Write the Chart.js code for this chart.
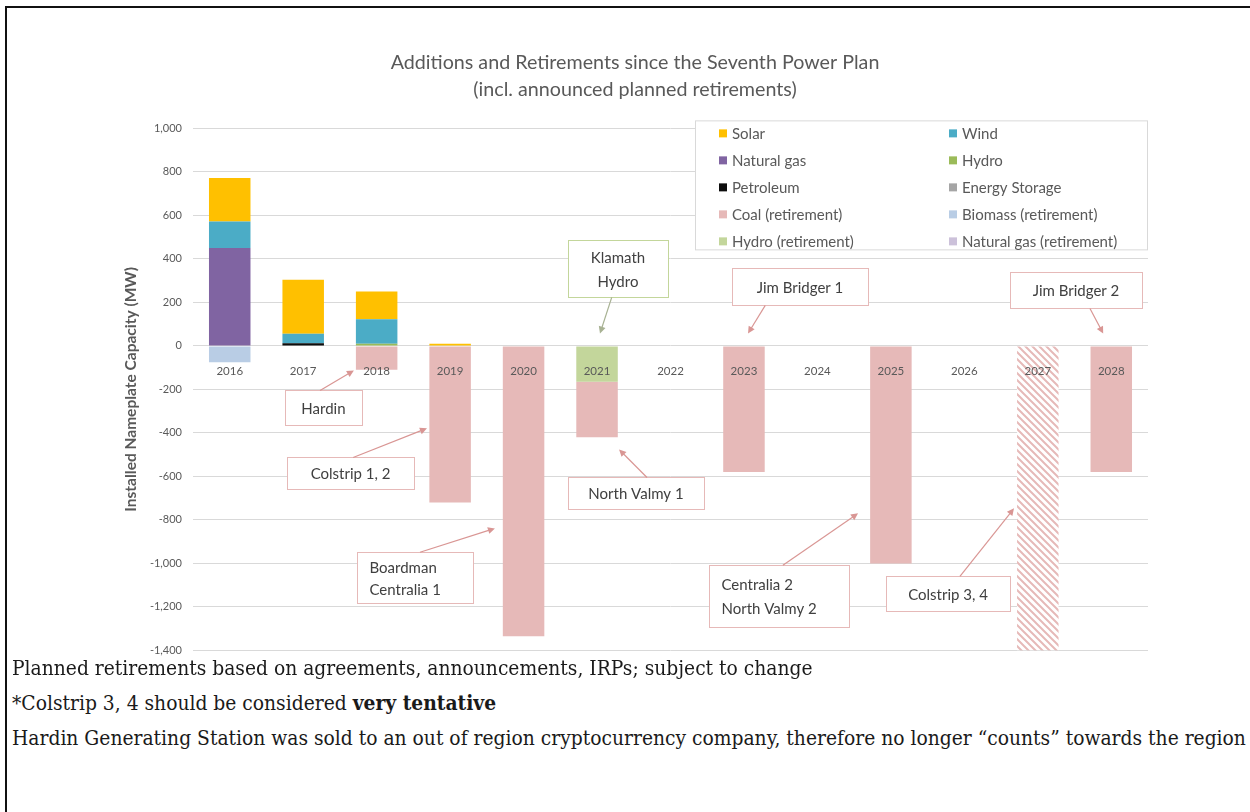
<!DOCTYPE html>
<html>
<head>
<meta charset="utf-8">
<script src="https://cdn.jsdelivr.net/npm/chart.js@4.4.0/dist/chart.umd.min.js"></script>
<style>
  html, body { margin: 0; padding: 0; background: #fff; }
  body { width: 1250px; height: 812px; position: relative; overflow: hidden; }
  #frame { position: absolute; left: 5px; top: 6px; width: 1300px; height: 900px;
           border-top: 2px solid #111; border-left: 2px solid #111; }
  #wrap { position: absolute; left: 0; top: 0; width: 1250px; height: 668px; }
  .note { position: absolute; left: 12px; white-space: nowrap; color: #1a1a1a;
          font-family: "DejaVu Serif Condensed", "DejaVu Serif", serif; font-size: 20.8px; line-height: 24px; }
</style>
</head>
<body>
<div id="frame"></div>
<div id="wrap"><canvas id="chart"></canvas></div>
<div class="note" style="top:656px">Planned retirements based on agreements, announcements, IRPs; subject to change</div>
<div class="note" style="top:691px">*Colstrip 3, 4 should be considered <b>very tentative</b></div>
<div class="note" style="top:726px">Hardin Generating Station was sold to an out of region cryptocurrency company, therefore no longer “counts” towards the region</div>
<script>
// 数据（MW）
const years = ['2016', '2017', '2018', '2019', '2020', '2021', '2022', '2023', '2024', '2025', '2026', '2027', '2028'];
const solar         = [200, 248, 128, 10, 0, 0, 0, 0, 0, 0, 0, 0, 0];
const wind          = [122, 44, 112, 0, 0, 0, 0, 0, 0, 0, 0, 0, 0];
const naturalGas    = [450, 0, 0, 0, 0, 0, 0, 0, 0, 0, 0, 0, 0];
const hydro         = [0, 0, 10, 0, 0, 0, 0, 0, 0, 0, 0, 0, 0];
const petroleum     = [0, 12, 0, 0, 0, 0, 0, 0, 0, 0, 0, 0, 0];
const energyStorage = [0, 0, 0, 0, 0, 0, 0, 0, 0, 0, 0, 0, 0];
const coalRet       = [0, 0, -110, -720, -1335, -255, 0, -580, 0, -1000, 0, -1400, -580];
const biomassRet    = [-75, 0, 0, 0, 0, 0, 0, 0, 0, 0, 0, 0, 0];
const hydroRet      = [0, 0, 0, 0, 0, -165, 0, 0, 0, 0, 0, 0, 0];
const gasRet        = [0, 0, 0, 0, 0, 0, 0, 0, 0, 0, 0, 0, 0];
const tentativeYear = '2027';
const yMin = -1400, yMax = 1000, yStep = 200;

// 标注框：x 为类别索引（可带小数），y 为数值
const callouts = [
  { lines: ['Klamath', 'Hydro'], x: 5.285, y: 354, w: 100, h: 57, from: [5.20, 223], to: [5.04, 57], tone: 'green' },
  { lines: ['Jim Bridger 1'], x: 7.763, y: 271, w: 136, h: 37, from: [7.29, 186], to: [7.055, 57] },
  { lines: ['Jim Bridger 2'], x: 11.52, y: 255, w: 132, h: 36, from: [11.71, 172], to: [11.89, 57] },
  { lines: ['Hardin'], x: 1.276, y: -285, w: 77, h: 35, from: [1.23, -205], to: [1.69, -113] },
  { lines: ['Colstrip 1, 2'], x: 1.644, y: -586, w: 127, h: 32, from: [1.68, -513], to: [2.685, -379] },
  { lines: ['Boardman', 'Centralia 1'], x: 2.522, y: -1067, w: 116, h: 51, from: [2.59, -949], to: [3.61, -839], left: true },
  { lines: ['North Valmy 1'], x: 5.53, y: -678, w: 136, h: 32, from: [5.68, -605], to: [5.30, -476] },
  { lines: ['Centralia 2', 'North Valmy 2'], x: 7.477, y: -1152, w: 140, h: 62, from: [7.53, -1009], to: [8.553, -770], left: true },
  { lines: ['Colstrip 3, 4'], x: 9.778, y: -1140, w: 124, h: 35, from: [9.94, -1060], to: [10.676, -747] }
];

const grey = '#595959';
const colors = {
  solar: '#ffc000', wind: '#4bacc6', gas: '#8064a2', hydro: '#9bbb59', petroleum: '#0d0d0d',
  storage: '#a5a5a5', coal: '#e6b9b8', biomass: '#b9cde5', hydroRet: '#c3d69b', gasRet: '#ccc1da'
};

function hatch(color) {
  const c = document.createElement('canvas');
  c.width = c.height = 7;
  const g = c.getContext('2d');
  g.fillStyle = '#fff';
  g.fillRect(0, 0, 7, 7);
  g.strokeStyle = color;
  g.lineWidth = 2;
  g.beginPath();
  [-7, 0, 7].forEach(k => { g.moveTo(k - 1, -1); g.lineTo(k + 8, 8); });
  g.stroke();
  return g.createPattern(c, 'repeat');
}

const coalFill = years.map(y => y === tentativeYear ? hatch(colors.coal) : colors.coal);

// 图例顺序（两列）
const legendOrder = ['Solar', 'Wind', 'Natural gas', 'Hydro', 'Petroleum', 'Energy Storage',
  'Coal (retirement)', 'Biomass (retirement)', 'Hydro (retirement)', 'Natural gas (retirement)'];

const legendBox = {
  id: 'legendBox',
  afterDatasetsDraw(chart) {
    const { ctx, chartArea } = chart;
    const right = chartArea.right, top = chartArea.top - 8;
    const left = 695, bottom = chartArea.top + 122;
    ctx.save();
    ctx.fillStyle = '#fff';
    ctx.fillRect(left, top, right - left, bottom - top);
    ctx.strokeStyle = '#d9d9d9';
    ctx.lineWidth = 1;
    ctx.strokeRect(left + 0.5, top + 0.5, right - left - 1, bottom - top - 1);
    ctx.font = '15px Lato';
    ctx.textBaseline = 'middle';
    legendOrder.forEach((name, i) => {
      const ds = chart.data.datasets.find(d => d.label === name);
      const col = i % 2, row = Math.floor(i / 2);
      const x = left + (col === 0 ? 24 : 254);
      const y = top + 13 + row * 27;
      ctx.fillStyle = ds.legendColor;
      ctx.fillRect(x, y - 4, 8, 8);
      ctx.fillStyle = grey;
      ctx.fillText(name, x + 13, y + 0.5);
    });
    ctx.restore();
  }
};

const calloutPlugin = {
  id: 'callouts',
  afterDatasetsDraw(chart) {
    const { ctx } = chart;
    const xs = chart.scales.x, ys = chart.scales.y;
    ctx.save();
    callouts.forEach(c => {
      const border = c.tone === 'green' ? '#c3d69b' : '#e6b9b8';
      const arrow = c.tone === 'green' ? '#a8b293' : '#d99694';
      const cx = xs.getPixelForValue(c.x), cy = ys.getPixelForValue(c.y);
      const bx = Math.round(cx - c.w / 2) + 0.5, by = Math.round(cy - c.h / 2) + 0.5;
      ctx.fillStyle = '#fff';
      ctx.fillRect(bx, by, c.w, c.h);
      ctx.strokeStyle = border;
      ctx.lineWidth = 1;
      ctx.strokeRect(bx, by, c.w, c.h);
      ctx.fillStyle = '#404040';
      ctx.font = '15px Lato';
      ctx.textBaseline = 'middle';
      ctx.textAlign = c.left ? 'left' : 'center';
      const lh = c.lines.length > 1 ? (c.h > 55 ? 24 : 22) : 0;
      c.lines.forEach((t, i) => {
        const ty = cy + 1 + (i - (c.lines.length - 1) / 2) * lh;
        ctx.fillText(t, c.left ? bx + 12 : cx, ty);
      });
      // 箭头
      const x1 = xs.getPixelForValue(c.from[0]), y1 = ys.getPixelForValue(c.from[1]);
      const x2 = xs.getPixelForValue(c.to[0]), y2 = ys.getPixelForValue(c.to[1]);
      const a = Math.atan2(y2 - y1, x2 - x1);
      ctx.strokeStyle = arrow;
      ctx.fillStyle = arrow;
      ctx.lineWidth = 1.2;
      ctx.beginPath();
      ctx.moveTo(x1, y1);
      ctx.lineTo(x2 - 5 * Math.cos(a), y2 - 5 * Math.sin(a));
      ctx.stroke();
      ctx.beginPath();
      ctx.moveTo(x2, y2);
      ctx.lineTo(x2 - 7 * Math.cos(a) + 3.5 * Math.sin(a), y2 - 7 * Math.sin(a) - 3.5 * Math.cos(a));
      ctx.lineTo(x2 - 7 * Math.cos(a) - 3.5 * Math.sin(a), y2 - 7 * Math.sin(a) + 3.5 * Math.cos(a));
      ctx.closePath();
      ctx.fill();
    });
    ctx.restore();
  }
};

function series(label, data, color, fill) {
  return { label, data, backgroundColor: fill || color, legendColor: color, borderWidth: 0 };
}

new Chart(document.getElementById('chart'), {
  type: 'bar',
  data: {
    labels: years,
    datasets: [
      series('Petroleum', petroleum, colors.petroleum),
      series('Natural gas', naturalGas, colors.gas),
      series('Hydro', hydro, colors.hydro),
      series('Energy Storage', energyStorage, colors.storage),
      series('Wind', wind, colors.wind),
      series('Solar', solar, colors.solar),
      series('Biomass (retirement)', biomassRet, colors.biomass),
      series('Hydro (retirement)', hydroRet, colors.hydroRet),
      series('Natural gas (retirement)', gasRet, colors.gasRet),
      series('Coal (retirement)', coalRet, colors.coal, coalFill)
    ]
  },
  plugins: [legendBox, calloutPlugin],
  options: {
    responsive: true,
    maintainAspectRatio: false,
    animation: false,
    datasets: { bar: { barPercentage: 0.565, categoryPercentage: 1 } },
    layout: { padding: { left: 122, right: 102, top: 10, bottom: 12 } },
    plugins: {
      legend: { display: false },
      tooltip: { enabled: false },
      title: {
        display: true,
        text: ['Additions and Retirements since the Seventh Power Plan', '(incl. announced planned retirements)'],
        color: grey,
        font: { family: 'Lato', size: 19.7, weight: 'normal', lineHeight: 1.38 },
        padding: { top: 39, bottom: 25 }
      }
    },
    scales: {
      x: {
        stacked: true,
        position: { y: 0 },
        grid: { display: false },
        border: { display: false },
        ticks: { z: 1, color: grey, font: { family: 'Lato', size: 11.5 }, padding: 11, maxRotation: 0, autoSkip: false }
      },
      y: {
        stacked: true,
        min: yMin,
        max: yMax,
        grid: { color: '#d9d9d9', drawTicks: false },
        border: { display: false },
        ticks: {
          stepSize: yStep,
          padding: 11,
          color: grey,
          font: { family: 'Lato', size: 11 },
          callback: v => v.toLocaleString('en-US')
        },
        title: {
          display: true,
          text: 'Installed Nameplate Capacity (MW)',
          color: grey,
          font: { family: 'Lato', size: 15.5, weight: 'bold' },
          padding: { top: 0, bottom: 0 }
        },
        afterFit(scale) { scale.width = 71; }
      }
    }
  }
});
</script>
</body>
</html>
